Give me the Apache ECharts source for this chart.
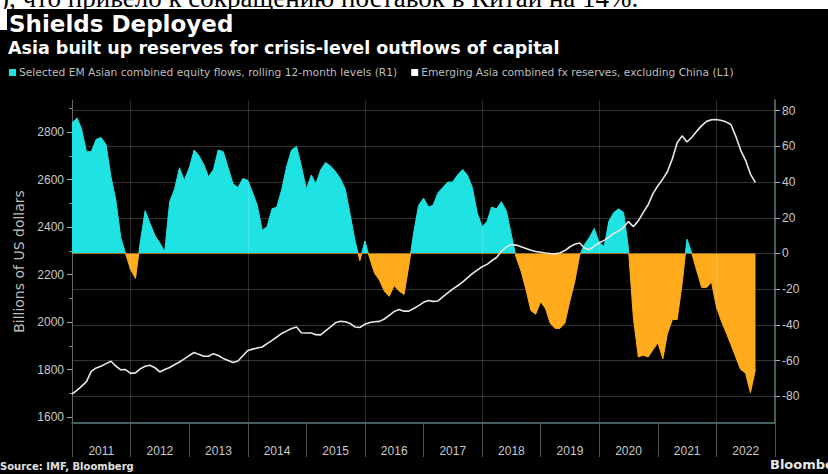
<!DOCTYPE html>
<html>
<head>
<meta charset="utf-8">
<script src="https://cdn.jsdelivr.net/npm/echarts@6/dist/echarts.min.js"></script>
<style>
  html, body { margin: 0; padding: 0; background: #000; overflow: hidden; }
  #wrap { position: relative; width: 828px; height: 474px; }
  #chart { width: 828px; height: 474px; }
  #lead {
    position: absolute; left: 0; top: 0; width: 828px; height: 9px;
    overflow: hidden; background: #fff;
  }
  #lead span {
    position: absolute; left: 0; top: -15px; white-space: nowrap;
    font: 27px/27px "Liberation Serif", serif; color: #000;
  }
</style>
</head>
<body>
<div id="wrap">
  <div id="chart"></div>
  <div id="lead"><span>), что привело к сокращению поставок в Китай на 14%.</span></div>
</div>
<script>
// Year labels under the x axis
const years = ['2011', '2012', '2013', '2014', '2015', '2016', '2017', '2018', '2019', '2020', '2021', '2022'];
// Years whose start carries a vertical grid line
const gridYears = [2012, 2014, 2016, 2018, 2020, 2022];

// Monthly observations start in January 2011
const firstYear = 2011;
const firstMonth = 1;

// Emerging Asia combined fx reserves, excluding China (billions of USD, left axis)
const reserves = [
  1697, 1712, 1729, 1749, 1792, 1807, 1814, 1825, 1835, 1815,
  1799, 1800, 1784, 1786, 1803, 1814, 1818, 1808, 1790, 1800,
  1809, 1820, 1832, 1845, 1859, 1872, 1864, 1856, 1856, 1867,
  1859, 1847, 1838, 1830, 1836, 1858, 1880, 1886, 1891, 1895,
  1909, 1923, 1937, 1952, 1963, 1973, 1979, 1955, 1954, 1954,
  1947, 1946, 1963, 1980, 1997, 2003, 2001, 1994, 1979, 1977,
  1991, 1998, 2001, 2003, 2013, 2028, 2044, 2053, 2046, 2046,
  2057, 2069, 2083, 2091, 2087, 2089, 2106, 2123, 2139, 2153,
  2168, 2186, 2204, 2219, 2233, 2243, 2258, 2272, 2298, 2316,
  2326, 2324, 2317, 2310, 2302, 2297, 2294, 2291, 2289, 2287,
  2291, 2301, 2316, 2328, 2333, 2312, 2304, 2320, 2334, 2344,
  2357, 2373, 2384, 2399, 2423, 2402, 2426, 2461, 2494, 2541,
  2574, 2603, 2633, 2687, 2755, 2784, 2758, 2778, 2804, 2827,
  2845, 2852, 2853, 2849, 2843, 2832, 2783, 2723, 2682, 2623,
  2587
];

// Selected EM Asian combined equity flows, rolling 12-month levels (billions of USD, right axis)
const equityFlows = [
  73, 76, 70, 57, 57, 64, 65, 61, 43, 30,
  9, 0, -9, -14, 6, 24, 17, 10, 6, 1,
  29, 36, 48, 41, 48, 58, 55, 50, 43, 47,
  58, 57, 48, 39, 37, 42, 41, 34, 27, 13,
  15, 25, 26, 36, 49, 58, 60, 49, 36, 44,
  39, 47, 51, 49, 46, 42, 36, 22, 7, -4,
  7, -3, -11, -15, -21, -24, -18, -21, -23, -7,
  12, 27, 31, 26, 27, 34, 37, 40, 40, 44,
  47, 44, 37, 23, 15, 18, 26, 25, 29, 24,
  11, -2, -10, -20, -32, -34, -27, -31, -39, -42,
  -42, -39, -27, -16, -1, 5, 9, 14, 6, 4,
  18, 23, 25, 23, 3, -36, -58, -57, -58, -54,
  -50, -59, -45, -37, -37, -17, 8, 0, -10, -19,
  -19, -16, -30, -38, -44, -51, -58, -65, -67, -78,
  -65
];

const leftTicks = [1600, 1800, 2000, 2200, 2400, 2600, 2800];
const leftMinorTicks = [1700, 1900, 2100, 2300, 2500, 2700, 2900];
const rightTicks = [-80, -60, -40, -20, 0, 20, 40, 60, 80];

const flowsName = 'Selected EM Asian combined equity flows, rolling 12-month levels (R1)';
const reservesName = 'Emerging Asia combined fx reserves, excluding China (L1)';

const CYAN = '#1fe3e3';
const ORANGE = '#ffab1c';
const LABEL = '#c9c9c9';
const GRID = '#343434';
const AXIS_TEAL = '#5d7f80';

// Month-start date strings for each observation
function monthDate(i) {
  const idx = firstMonth - 1 + i;
  const y = firstYear + Math.floor(idx / 12);
  const m = (idx % 12) + 1;
  return y + '-' + String(m).padStart(2, '0') + '-01';
}
const flowPoints = equityFlows.map((v, i) => [monthDate(i), v]);
const reservePoints = reserves.map((v, i) => [monthDate(i), v]);
const gridLineData = gridYears.map((y) => ({ xAxis: new Date(y, 0, 1).getTime() }));

const chart = echarts.init(document.getElementById('chart'), null, { renderer: 'svg' });

chart.setOption({
  backgroundColor: '#000',
  animation: false,
  textStyle: { fontFamily: 'Liberation Sans' },
  title: [
    {
      text: 'Shields Deployed',
      left: 9, top: 12, padding: 0,
      textStyle: { color: '#ffffff', fontSize: 23, fontWeight: 'bold', fontFamily: 'DejaVu Sans' }
    },
    {
      text: 'Asia built up reserves for crisis-level outflows of capital',
      left: 8, top: 39, padding: 0,
      textStyle: { color: '#ffffff', fontSize: 17.5, fontWeight: 'bold', fontFamily: 'DejaVu Sans' }
    }
  ],
  legend: {
    left: 9, top: 67, padding: 0,
    itemWidth: 7, itemHeight: 7, itemGap: 14,
    selectedMode: false,
    textStyle: { color: '#bdbdbd', fontSize: 10.7, fontFamily: 'DejaVu Sans', padding: [0, 0, 0, -2] },
    data: [
      { name: flowsName, icon: 'rect', itemStyle: { color: CYAN } },
      { name: reservesName, icon: 'rect', itemStyle: { color: '#ffffff' } }
    ]
  },
  grid: { left: 72, right: 53, top: 100, bottom: 51, outerBoundsMode: 'none', containLabel: false },
  xAxis: [
    {
      type: 'time',
      min: '2011-01-01',
      max: '2023-01-01',
      position: 'bottom',
      show: false
    },
    {
      type: 'category',
      data: years,
      position: 'bottom',
      boundaryGap: true,
      axisLine: { show: true, lineStyle: { color: AXIS_TEAL, width: 1.5 } },
      axisTick: { show: true, interval: 0, length: 34, lineStyle: { color: '#555' } },
      axisLabel: { color: LABEL, fontSize: 12, margin: 22, interval: 0 },
      splitLine: { show: false }
    }
  ],
  yAxis: [
    {
      type: 'value',
      position: 'left',
      min: 1575,
      max: 2935,
      axisLine: { show: true, lineStyle: { color: '#666', width: 1 } },
      axisTick: { show: true, length: 5, customValues: leftTicks, lineStyle: { color: '#aaa' } },
      axisLabel: { color: LABEL, fontSize: 12, margin: 8, customValues: leftTicks, formatter: (v) => String(v) },
      splitLine: { show: false },
      name: 'Billions of US dollars',
      nameLocation: 'middle',
      nameGap: 44,
      nameTextStyle: { color: '#bdbdbd', fontSize: 14, fontFamily: 'DejaVu Sans' }
    },
    {
      type: 'value',
      position: 'right',
      min: -95,
      max: 86,
      axisLine: { show: true, lineStyle: { color: AXIS_TEAL, width: 1.5 } },
      axisTick: { show: true, length: 5, customValues: rightTicks, lineStyle: { color: '#aaa' } },
      axisLabel: { color: LABEL, fontSize: 12, margin: 7, customValues: rightTicks, formatter: (v) => String(v) },
      splitLine: { show: true, lineStyle: { color: GRID, width: 1 } },
      name: 'Billions of US dollars',
      nameLocation: 'middle',
      nameGap: 57,
      nameRotate: -90,
      nameTextStyle: { color: '#bdbdbd', fontSize: 14, fontFamily: 'DejaVu Sans' }
    },
    {
      type: 'value',
      position: 'left',
      min: 1575,
      max: 2935,
      axisLine: { show: false },
      axisTick: { show: true, length: 3, customValues: leftMinorTicks, lineStyle: { color: '#888' } },
      axisLabel: { show: false },
      splitLine: { show: false }
    }
  ],
  visualMap: {
    show: false,
    type: 'piecewise',
    seriesIndex: 0,
    dimension: 1,
    pieces: [
      { gt: 0, lte: 200, color: CYAN },
      { gt: -200, lte: 0, color: ORANGE }
    ]
  },
  series: [
    {
      name: flowsName,
      type: 'line',
      xAxisIndex: 0,
      yAxisIndex: 1,
      data: flowPoints,
      symbol: 'none',
      lineStyle: { width: 1 },
      areaStyle: { opacity: 1 },
      z: 2
    },
    {
      name: reservesName,
      type: 'line',
      xAxisIndex: 0,
      yAxisIndex: 0,
      data: reservePoints,
      symbol: 'none',
      color: '#e8e8e8',
      lineStyle: { color: '#e8e8e8', width: 1.6 },
      z: 3,
      // faint vertical grid lines at every second year start
      markLine: {
        silent: true,
        symbol: ['none', 'none'],
        label: { show: false },
        emphasis: { disabled: true },
        lineStyle: { color: 'rgba(255,255,255,0.17)', width: 1, type: 'solid' },
        data: gridLineData
      }
    }
  ],
  graphic: [
    { type: 'rect', z: 0, shape: { x: 0, y: 9, width: 7, height: 21 }, style: { fill: '#ffffff' } },
    {
      type: 'text', z: 10, x: 0, y: 466,
      style: { text: 'Source: IMF, Bloomberg', fill: '#e0e0e0', font: 'bold 10px "DejaVu Sans"', verticalAlign: 'middle' }
    },
    {
      type: 'text', z: 10, x: 770, y: 464,
      style: { text: 'Bloomberg', fill: '#e8e8e8', font: 'bold 13px "DejaVu Sans"', verticalAlign: 'middle' }
    }
  ]
});
</script>
</body>
</html>
